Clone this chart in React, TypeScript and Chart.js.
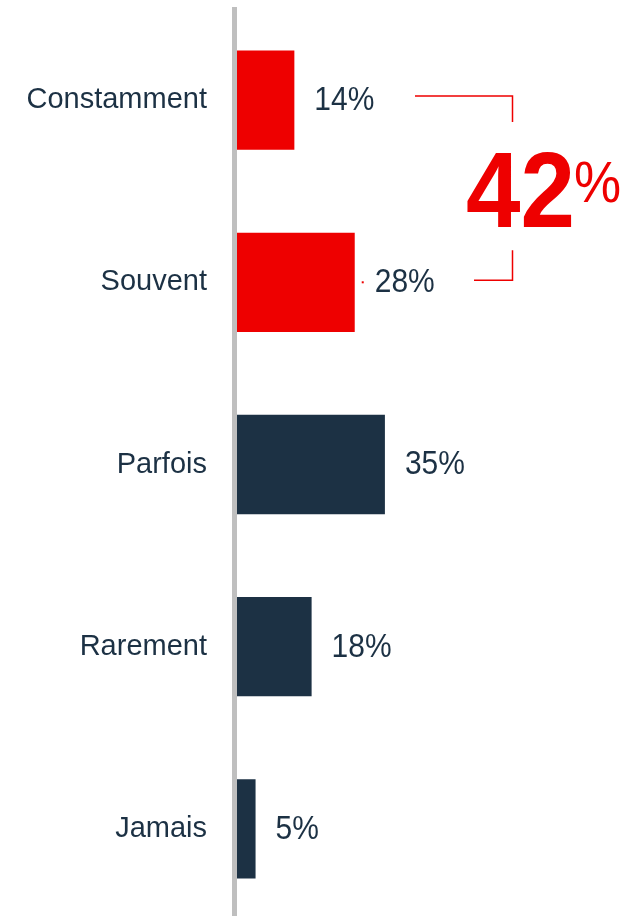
import React, { useEffect, useRef } from "react";
import { Chart, registerables } from "chart.js";

Chart.register(...registerables);

const categories = ["Constamment", "Souvent", "Parfois", "Rarement", "Jamais"];
const values = [14, 28, 35, 18, 5];
const valueLabels = ["14%", "28%", "35%", "18%", "5%"];
const highlighted = [true, true, false, false, false];
const totalNumber = "42";
const totalSuffix = "%";

const RED = "#ee0000";
const NAVY = "#1c3144";
const GREY = "#bfbfbf";
const FONT = "'Liberation Sans', Arial, sans-serif";

function stretchedText(ctx: any, text: string, x: number, y: number, sy: number) {
  ctx.save();
  ctx.translate(x, y);
  ctx.scale(1, sy);
  ctx.fillText(text, 0, 0);
  ctx.restore();
}

const valueLabelPlugin = {
  id: "valueLabels",
  afterDatasetsDraw(chart: any) {
    const ctx = chart.ctx;
    const meta = chart.getDatasetMeta(0);
    ctx.save();
    ctx.fillStyle = NAVY;
    ctx.font = `30px ${FONT}`;
    ctx.textAlign = "left";
    ctx.textBaseline = "middle";
    meta.data.forEach((bar: any, i: number) => {
      stretchedText(ctx, valueLabels[i], bar.x + 20, bar.y + 1, 1.08);
    });
    ctx.restore();
  },
};

const calloutPlugin = {
  id: "callout",
  afterDraw(chart: any) {
    const ctx = chart.ctx;
    const meta = chart.getDatasetMeta(0);
    const b0 = meta.data[0];
    const b1 = meta.data[1];
    if (!b0 || !b1) return;
    const xv = 512.5;
    const yTop = b0.y - 4;
    const yBot = b1.y - 2;
    ctx.save();
    ctx.strokeStyle = RED;
    ctx.lineWidth = 1.5;
    ctx.beginPath();
    ctx.moveTo(415, yTop);
    ctx.lineTo(xv, yTop);
    ctx.lineTo(xv, yTop + 26);
    ctx.stroke();
    ctx.beginPath();
    ctx.moveTo(xv, yBot - 30);
    ctx.lineTo(xv, yBot);
    ctx.lineTo(474, yBot);
    ctx.stroke();
    // small dot next to 28%
    ctx.fillStyle = RED;
    ctx.fillRect(b1.x + 7, b1.y - 1, 2, 2);
    // big total
    ctx.textAlign = "left";
    ctx.textBaseline = "alphabetic";
    ctx.font = `bold 98px ${FONT}`;
    stretchedText(ctx, totalNumber, 466, 227, 1.1);
    ctx.font = `53px ${FONT}`;
    stretchedText(ctx, totalSuffix, 574, 202, 1.08);
    ctx.restore();
  },
};

export default function App() {
  const ref = useRef<HTMLCanvasElement | null>(null);
  useEffect(() => {
    if (!ref.current) return;
    const chart = new Chart(ref.current, {
      type: "bar",
      data: {
        labels: categories,
        datasets: [
          {
            data: values,
            backgroundColor: highlighted.map((h) => (h ? RED : NAVY)),
            borderWidth: 0,
            categoryPercentage: 1,
            barPercentage: 0.545,
          },
        ],
      },
      options: {
        indexAxis: "y",
        animation: false,
        responsive: true,
        maintainAspectRatio: false,
        layout: { padding: { top: 9, bottom: 10, left: 0, right: 0 } },
        plugins: {
          legend: { display: false },
          tooltip: { enabled: false },
          title: { display: false },
        },
        scales: {
          x: {
            display: false,
            min: 0,
            max: 93,
          },
          y: {
            afterFit(scale: any) {
              scale.width = 234;
              scale.paddingTop = 0;
              scale.paddingBottom = 0;
            },
            grid: { display: false, drawTicks: false },
            border: { display: true, color: GREY, width: 5, z: 1 },
            ticks: {
              padding: 27,
              color: NAVY,
              font: { family: FONT, size: 29 },
            },
          },
        },
      },
      plugins: [valueLabelPlugin, calloutPlugin],
    });
    return () => chart.destroy();
  }, []);
  return (
    <div
      style={{
        position: "fixed",
        top: 0,
        left: 0,
        width: 635,
        height: 916,
        overflow: "hidden",
        background: "#fff",
      }}
    >
      <div style={{ position: "relative", width: 635, height: 930 }}>
        <canvas ref={ref} />
      </div>
    </div>
  );
}
